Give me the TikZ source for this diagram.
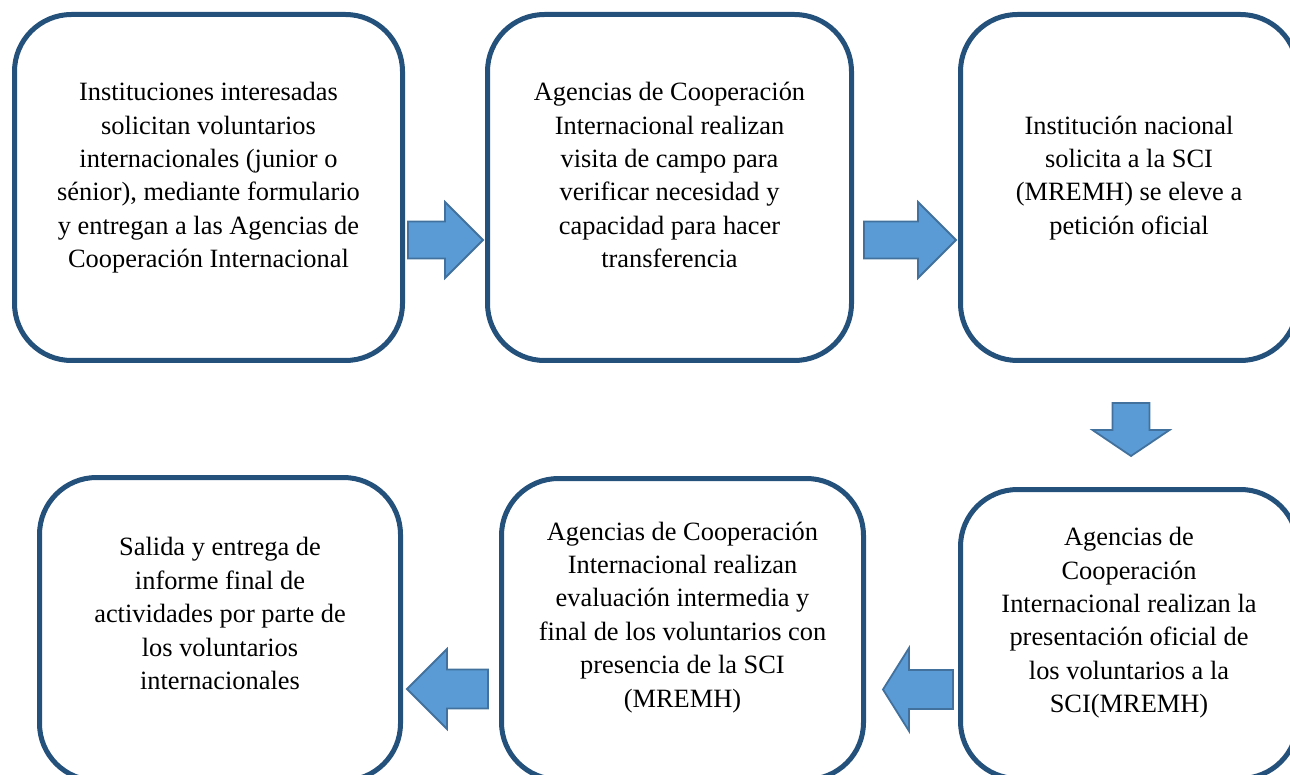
\documentclass[tikz,border=0pt]{standalone}
\usepackage{fontspec}
\setmainfont{Liberation Serif}
\usetikzlibrary{calc}
\definecolor{boxblue}{HTML}{24517C}
\definecolor{arrowfill}{HTML}{5B9BD5}
\definecolor{arrowline}{HTML}{41719C}
\newcommand{\stepText}[2][10pt]{\raisebox{#1}[\height][\depth]{\begin{tabular}{@{}c@{}}#2\end{tabular}}}
% block arrow: tail, tip, body half width, head half width, head length
\newcommand{\blockArrow}[5]{%
  \coordinate (ba-t) at #1;
  \coordinate (ba-h) at #2;
  \coordinate (ba-n) at ($(ba-h)!#5!(ba-t)$);
  \draw[flowarrow] ($(ba-t)!#3!90:(ba-h)$) -- ($(ba-n)!#3!90:(ba-h)$)
    -- ($(ba-n)!#4!90:(ba-h)$) -- (ba-h) -- ($(ba-n)!#4!-90:(ba-h)$)
    -- ($(ba-n)!#3!-90:(ba-h)$) -- ($(ba-t)!#3!-90:(ba-h)$) -- cycle;
}

\begin{document}
\begin{tikzpicture}[x=1pt, y=-1pt]
  \tikzset{stepbox/.style={draw=boxblue, line width=5pt, rounded corners=57pt,
             inner sep=0pt, font=\fontsize{26.4}{33.4}\selectfont},
           flowarrow/.style={fill=arrowfill, draw=arrowline, line width=1.8pt, line join=miter}}
  \useasboundingbox (0,0) rectangle (1290,775);

  \node[stepbox, minimum width=388, minimum height=346] (b1) at (208.5,187.5)
    {\stepText{Instituciones interesadas\\solicitan voluntarios\\internacionales (junior o\\sénior), mediante formulario\\y entregan a las Agencias de\\Cooperación Internacional}};
  \node[stepbox, minimum width=364, minimum height=346] (b2) at (669.5,187.5)
    {\stepText{Agencias de Cooperación\\Internacional realizan\\visita de campo para\\verificar necesidad y\\capacidad para hacer\\transferencia}};
  \node[stepbox, minimum width=337, minimum height=346] (b3) at (1129,187.5)
    {\stepText{Institución nacional\\solicita a la SCI\\(MREMH) se eleve a\\petición oficial}};
  \node[stepbox, minimum width=337, minimum height=289] (b6) at (1129,634)
    {\stepText[11.5pt]{Agencias de\\Cooperación\\Internacional realizan la\\presentación oficial de\\los voluntarios a la\\SCI(MREMH)}};
  \node[stepbox, minimum width=362, minimum height=301] (b5) at (682.5,629)
    {\stepText[12pt]{Agencias de Cooperación\\Internacional realizan\\evaluación intermedia y\\final de los voluntarios con\\presencia de la SCI\\(MREMH)}};
  \node[stepbox, minimum width=361, minimum height=303] (b4) at (220,629)
    {\stepText[13pt]{Salida y entrega de\\informe final de\\actividades por parte de\\los voluntarios\\internacionales}};

  \blockArrow{($(b1.east)+(3,52.5)$)}{($(b2.west)+(-2,52.5)$)}{18.5pt}{38pt}{38pt}
  \blockArrow{($(b2.east)+(10,52.5)$)}{($(b3.west)+(-2,52.5)$)}{18.5pt}{38pt}{38pt}
  \blockArrow{($(b3.south)+(2,40)$)}{($(b6.north)+(2,-31)$)}{18.5pt}{38.5pt}{26pt}
  \blockArrow{($(b6.west)+(-5,55.5)$)}{($(b5.east)+(17,60.5)$)}{19.5pt}{41.5pt}{26pt}
  \blockArrow{($(b5.west)+(-11,60)$)}{($(b4.east)+(4,60)$)}{19.5pt}{40pt}{40pt}
\end{tikzpicture}
\end{document}
